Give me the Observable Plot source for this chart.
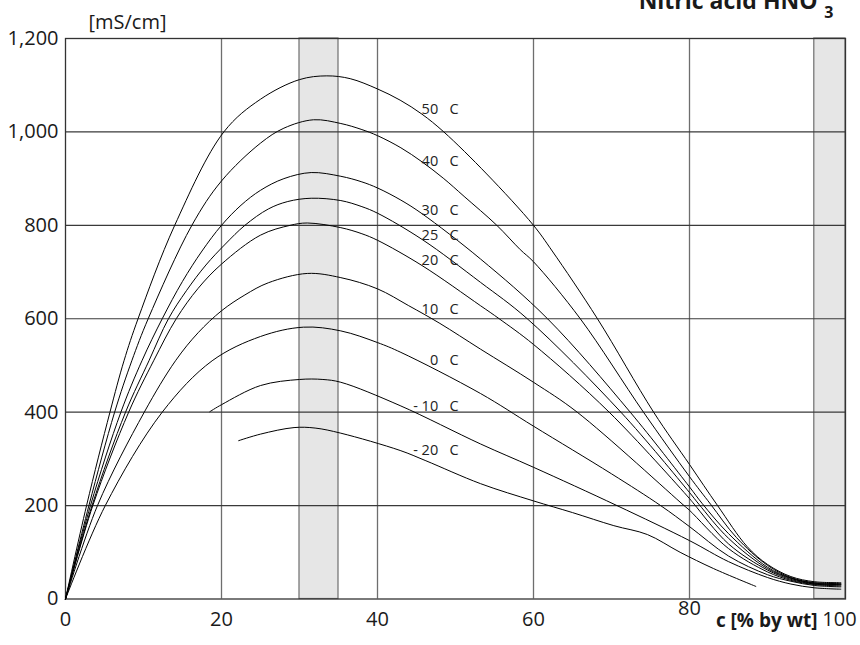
<!DOCTYPE html>
<html>
<head>
<meta charset="utf-8">
<script src="https://cdn.jsdelivr.net/npm/d3@7"></script>
<script src="https://cdn.jsdelivr.net/npm/@observablehq/plot@0.6"></script>
<style>
  html, body { margin: 0; padding: 0; background: #fff; }
  svg { display: block; }
</style>
</head>
<body>
<script>
// Concentration c [% by wt] vs conductivity [mS/cm], per temperature
const temps = ["50", "40", "30", "25", "20", "10", "0", "-10", "-20"];

const c50 = [[0,0],[2.7,200],[5.7,400],[7.5,510],[9.3,600],[14,800],[20.3,1000],[25,1070],[30,1112],[33.5,1120],[36.5,1114],[40,1092],[42.9,1068],[45.7,1038],[48.5,1000],[54,910],[60,800],[62.4,745],[68.2,600],[75.4,400],[80,288],[83.6,200],[87.4,112],[90,74],[93,48],[96,37],[99.4,35]];
const c40 = [[0,0],[3.0,200],[6.3,400],[8.5,510],[10.6,600],[16.2,800],[20,895],[25,976],[28,1008],[31.8,1026],[35.3,1018],[38,1005],[40,992],[43,966],[45.7,936],[48.5,900],[51.1,862],[55.3,800],[58.3,748],[60,722],[66,600],[74.1,400],[80,262],[82.7,203],[86,132],[90,72],[93,46],[96,35],[99.4,33]];
const c30 = [[0,0],[3.2,200],[7.1,400],[9.8,510],[12.4,600],[15,680],[17.5,745],[20,800],[22.5,843],[25,875],[28,900],[31.5,913],[35.3,905],[38,893],[40,880],[43,854],[45.7,825],[53.2,728],[61.8,600],[72.4,400],[80,240],[81.6,205],[85,140],[90,68],[93,45],[96,34],[99.4,32]];
const c25 = [[0,0],[3.4,200],[7.7,400],[10.7,510],[13.2,600],[15.5,660],[18,715],[20.5,760],[23,800],[26,835],[28.5,851],[31.5,858],[35.3,853],[38,840],[40,826],[45.7,770],[53.2,678],[59.2,600],[71.2,400],[80,228],[81.2,203],[85,130],[90,65],[93,44],[96,33],[99.4,31]];
const c20 = [[0,0],[3.5,200],[8.1,400],[11.3,510],[14.2,600],[17,665],[20,717],[25,779],[28.8,800],[31,805],[35.3,795],[38,782],[40,768],[45.7,714],[53.2,628],[55.6,600],[60,545],[69.7,400],[80,215],[80.6,203],[85,118],[90,62],[93,42],[96,32],[99.4,30]];
const c10 = [[0,0],[4.1,200],[10.1,400],[14.1,510],[17,570],[20,617],[23,651],[26,677],[31,697],[35.3,688],[40,664],[44,628],[48,590],[53.2,535],[60,464],[65.6,400],[79.3,200],[80,190],[85,108],[90,58],[93,40],[96,31],[99.4,28]];
const c0 = [[0,0],[5.1,200],[12.4,400],[18.8,510],[25,562],[30.5,582],[35.3,574],[40,549],[43,528],[53.2,440],[60,370],[70,268],[76.3,200],[80,155],[85,92],[90,52],[93,38],[96,29],[99.4,26]];
const cm10 = [[18.5,401],[20,416],[25,457],[30,470],[33,470],[35.3,464],[42.9,414],[53.2,332],[60,282],[70.7,200],[80,125],[85,80],[90,46],[93,32],[96,24],[99.4,21]];
const cm20 = [[22.2,339],[25,353],[29.3,367],[32,366],[35.3,355],[42.9,318],[46.2,296],[53.2,247],[60,210],[65,185],[70.3,157],[74.6,138],[78.8,100],[83.1,65],[88.5,27]];
const curves = [c50, c40, c30, c25, c20, c10, c0, cm10, cm20];

// Curve labels: temperature text and the conductivity where each sits
const labelText = ["50", "40", "30", "25", "20", "10", "0", "- 10", "- 20"];
const labelY = [1049, 938, 833, 778, 724, 621, 510, 412, 319];
const labelX = 50.4;

// Shaded concentration bands
const bandStart = [30, 96];
const bandEnd = [35, 100];

// Ticks
const xTicksMain = [0, 20, 40, 60];
const xTickRaised = [80];
const xTickEnd = [100];
const yTicks = [0, 200, 400, 600, 800, 1000, 1200];
const xGridVals = [20, 40, 60, 80];
const yGridVals = [200, 400, 600, 800, 1000];

const rows = curves.flatMap((pts, i) => pts.map(([c, k]) => ({t: temps[i], c, k})));
const labels = labelText.map((s, i) => ({text: s.replace(" ", "\u00a0") + "\u00a0\u00a0\u00a0C", k: labelY[i]}));
const bands = bandStart.map((s, i) => ({x1: s, x2: bandEnd[i]}));

const font = "'Open Sans', 'Noto Sans', sans-serif";
const axisOpts = {tickSize: 0, tickPadding: 13, fontSize: 20, label: null};

const chart = Plot.plot({
  width: 860,
  height: 645,
  marginLeft: 65,
  marginRight: 15,
  marginTop: 38,
  marginBottom: 46.5,
  style: {fontFamily: font, fontSize: "20px", color: "#1a1a1a", background: "#fff"},
  x: {domain: [0, 100], label: null},
  y: {domain: [0, 1200], label: null},
  marks: [
    Plot.rect(bands, {x1: "x1", x2: "x2", y1: 0, y2: 1200, fill: "#e6e6e6", stroke: "#6e6e6e", strokeWidth: 1.2}),
    Plot.gridX(xGridVals, {stroke: "#6e6e6e", strokeOpacity: 1, strokeWidth: 1.3}),
    Plot.gridY(yGridVals, {stroke: "#3a3a3a", strokeOpacity: 1, strokeWidth: 1.2}),
    Plot.frame({stroke: "#333", strokeWidth: 1.3}),
    Plot.line(rows, {x: "c", y: "k", z: "t", curve: "catmull-rom", stroke: "#000", strokeWidth: 1}),
    Plot.text(labels, {x: labelX, y: "k", text: "text", textAnchor: "end", fontSize: 14.5, fill: "#222"}),
    Plot.axisY(yTicks, {tickSize: 0, tickPadding: 7, fontSize: 20, label: null}),
    Plot.axisX(xTicksMain, axisOpts),
    Plot.axisX(xTickRaised, {...axisOpts, dy: -11}),
    Plot.axisX(xTickEnd, {...axisOpts, dx: -6}),
    Plot.text(["[mS/cm]"], {frameAnchor: "top-left", dx: 23, dy: -16, textAnchor: "start", lineAnchor: "middle", fontSize: 20}),
    Plot.text(["c [% by wt]"], {frameAnchor: "bottom-right", dx: -28, dy: 21.5, textAnchor: "end", lineAnchor: "middle", fontSize: 19, fontWeight: "bold"}),
    Plot.text(["Nitric acid HNO"], {frameAnchor: "top-right", dx: -28, dy: -37, textAnchor: "end", lineAnchor: "middle", fontSize: 23, fontWeight: "bold"}),
    Plot.text(["3"], {frameAnchor: "top-right", dx: -12, dy: -26, textAnchor: "end", lineAnchor: "middle", fontSize: 16, fontWeight: "bold"})
  ]
});
document.body.appendChild(chart);
</script>
</body>
</html>
